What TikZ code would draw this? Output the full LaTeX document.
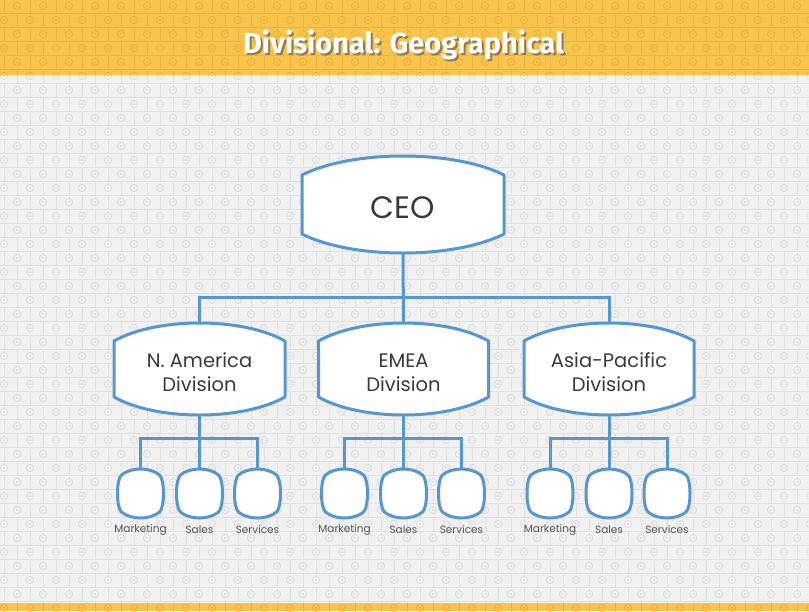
\documentclass[tikz,border=0pt]{standalone}
\usepackage{fontspec}
\setmainfont{Poppins}
\newfontfamily\titlefont{Fira Sans}
\usetikzlibrary{calc}
\pgfdeclarelayer{bg}
\pgfdeclarelayer{shapes}
\pgfsetlayers{bg,shapes,main}
\definecolor{lineblue}{HTML}{5697D0}
\definecolor{bggrey}{HTML}{F1F1F1}
\definecolor{patline}{HTML}{E1E1E1}
\definecolor{patcirc}{HTML}{D8D8D8}
\definecolor{hdryellow}{HTML}{F8C44B}
\definecolor{patyline}{HTML}{EDB53F}
\definecolor{patycirc}{HTML}{E6AE3A}
\definecolor{txtgrey}{HTML}{3A3A3A}
\definecolor{titleshade}{HTML}{8F7C58}

\tikzset{
  boxline/.style={draw=lineblue, line width=3pt, fill=white, line join=round},
  conn/.style={draw=lineblue, line width=3pt},
  shapenode/.style={inner sep=0pt},
  ceotext/.style={inner sep=0pt, text=txtgrey, font=\fontsize{31}{36}\selectfont},
  divtext/.style={inner sep=0pt, text=txtgrey, align=center, font=\fontsize{19.5}{24}\selectfont},
  lbl/.style={inner sep=0pt, text=txtgrey!85, font=\fontsize{10.5}{12}\selectfont},
  titletext/.style={anchor=base, inner sep=0pt, font=\titlefont\bfseries\fontsize{29}{34}\selectfont},
}

\newcommand\shadowed[1]{%
  \makebox[0pt][l]{\hspace{2pt}\raisebox{-2pt}{\textcolor{titleshade}{#1}}}#1}

% brick background pattern: rows #1..#2, line colour #3, circle colour #4
\newcommand\brickrows[4]{%
  \foreach \k in {#1,...,#2}{%
    \pgfmathsetmacro\yy{-1+14*\k}%
    \pgfmathsetmacro\off{mod(\k,2)*13+4}%
    \draw[#3, line width=0.8pt] (0,\yy) -- (809,\yy);
    \foreach \j in {-1,...,31}{%
      \pgfmathsetmacro\xx{\off+26*\j}%
      \draw[#3, line width=0.8pt] (\xx,\yy) -- (\xx,\yy+14);
      \draw[#4, line width=0.6pt] (\xx+13,\yy+7) circle[radius=3.6];
      \fill[#4] (\xx+13,\yy+7) circle[radius=0.9];
    }%
  }%
}

% barrel-shaped box: name, cx, cy, w, h, sag, inset
\newcommand\barrel[7]{%
  \node[shapenode, minimum width=#4pt, minimum height=#5pt] (#1) at (#2,#3) {};
  \pgfmathsetmacro\bL{#2-#4/2}%
  \pgfmathsetmacro\bR{#2+#4/2}%
  \pgfmathsetmacro\bT{#3-#5/2}%
  \pgfmathsetmacro\bB{#3+#5/2}%
  \pgfmathsetmacro\bq{0.25*(#4-2*#7)}%
  \pgfmathsetmacro\bd{(4*#7/3)*(4*#6/3)/\bq}%
  \begin{pgfonlayer}{shapes}
    \draw[boxline] (\bL+#7,\bT+#6)
      .. controls (\bL+#7+\bq,\bT-#6/3) and (\bR-#7-\bq,\bT-#6/3) .. (\bR-#7,\bT+#6)
      .. controls (\bR+#7/3,\bT+#6+\bd) and (\bR+#7/3,\bB-#6-\bd) .. (\bR-#7,\bB-#6)
      .. controls (\bR-#7-\bq,\bB+#6/3) and (\bL+#7+\bq,\bB+#6/3) .. (\bL+#7,\bB-#6)
      .. controls (\bL-#7/3,\bB-#6-\bd) and (\bL-#7/3,\bT+#6+\bd) .. (\bL+#7,\bT+#6) -- cycle;
  \end{pgfonlayer}%
}

\begin{document}
\begin{tikzpicture}[x=1pt, y=-1pt]
\useasboundingbox (0,0) rectangle (809,611);

\begin{pgfonlayer}{bg}
  % grey body
  \begin{scope}
    \clip (0,75) rectangle (809,603);
    \fill[bggrey] (0,75) rectangle (809,603);
    \brickrows{5}{44}{patline}{patcirc}
  \end{scope}
  % yellow header
  \begin{scope}
    \clip (0,0) rectangle (809,75);
    \fill[hdryellow] (0,0) rectangle (809,75);
    \brickrows{-1}{6}{patyline}{patycirc}
  \end{scope}
  % yellow footer
  \begin{scope}
    \clip (0,603) rectangle (809,611);
    \fill[hdryellow] (0,603) rectangle (809,611);
    \brickrows{42}{44}{patyline}{patycirc}
  \end{scope}
\end{pgfonlayer}

% title
\node[titletext, text=white] (title) at (403.5,53) {\shadowed{Divisional: Geographical}};

% CEO
\barrel{ceo}{403}{204.5}{202}{97}{19}{0}
\node[ceotext] (ceot) at (403,208) {CEO};

% divisions
\barrel{d1}{199.5}{369}{171}{92}{18}{0}
\barrel{d2}{403.5}{369}{170}{92}{18}{0}
\barrel{d3}{609}{369}{170}{92}{18}{0}
\node[divtext] (d1t) at (199.5,375) {\strut N. America\\\strut Division};
\node[divtext] (d2t) at (403.5,375) {\strut EMEA\\\strut Division};
\node[divtext] (d3t) at (609,375) {\strut Asia-Pacific\\\strut Division};

% CEO to divisions
\coordinate (bus0) at (403,297);
\draw[conn] (ceo.south) -- (d2.north);
\draw[conn] (d1.north) -- (d1.north |- bus0) -- (d3.north |- bus0) -- (d3.north);

% units
\foreach \i/\cx in {1/199.5,2/403.5,3/609}{
  \foreach \j/\dx/\lab in {1/-59/Marketing,2/0/Sales,3/58/Services}{
    \pgfmathsetmacro\sx{\cx+\dx}
    \barrel{u\i\j}{\sx}{493.5}{46}{49}{6}{4}
    \node[lbl] (l\i\j) at (\sx,530) {\lab};
  }
  \coordinate (bus\i) at (\cx,438);
  \draw[conn] (d\i.south) -- (u\i2.north);
  \draw[conn] (u\i1.north) -- (u\i1.north |- bus\i) -- (u\i3.north |- bus\i) -- (u\i3.north);
}
\end{tikzpicture}
\end{document}
